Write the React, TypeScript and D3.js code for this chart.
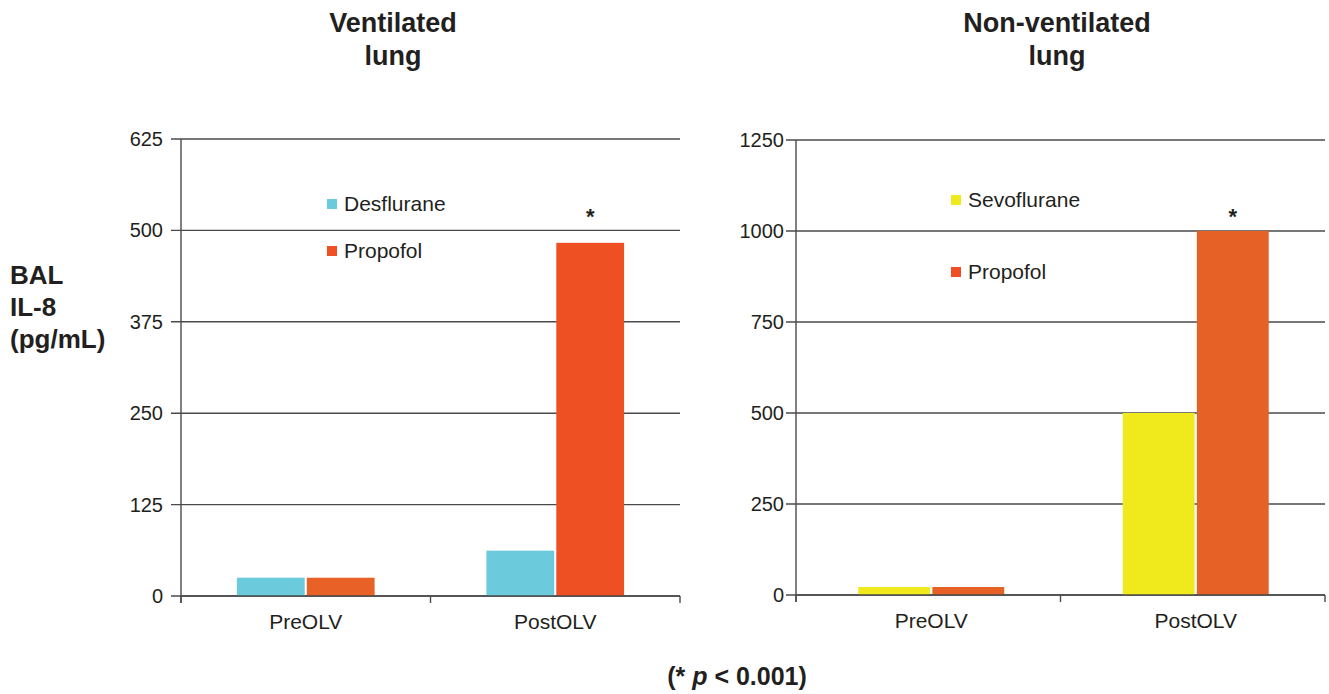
import React from "react";
import * as d3 from "d3";

// categories and series
const categories = ["PreOLV", "PostOLV"];

const ventSeries = ["Desflurane", "Propofol"];
const ventDesflurane = [25, 62];
const ventPropofol = [25, 483];
const ventTicks = [0, 125, 250, 375, 500, 625];

const nonVentSeries = ["Sevoflurane", "Propofol"];
const nonVentSevoflurane = [22, 500];
const nonVentPropofol = [22, 1000];
const nonVentTicks = [0, 250, 500, 750, 1000, 1250];

const FONT = "'Liberation Sans', Arial, Helvetica, sans-serif";
const INK = "#231f20";
const GRID = "#4a4a4a";

type PanelProps = {
  title: string[];
  series: string[];
  values: number[][];
  ticks: number[];
  colors: string[][]; // [series][category]
  legendColors: string[];
  x0: number;
  x1: number;
  yTop: number;
  yBottom: number;
  legendX: number;
  legendY: number[];
  titleX: number;
  groupShift: number;
  labelGap: number;
};

const Panel = (p: PanelProps) => {
  const max = p.ticks[p.ticks.length - 1];
  const y = d3.scaleLinear().domain([0, max]).range([p.yBottom, p.yTop]);
  const x = d3.scaleBand<string>().domain(categories).range([p.x0, p.x1]).padding(0);
  const xs = d3
    .scaleBand<string>()
    .domain(p.series)
    .range([0, x.bandwidth()])
    .paddingInner(0.03)
    .paddingOuter(0.8);

  const lastCat = categories[categories.length - 1];
  const starX = (x(lastCat) || 0) + p.groupShift + (xs(p.series[1]) || 0) + xs.bandwidth() / 2;

  return (
    <g>
      {p.title.map((t, i) => (
        <text
          key={t}
          x={p.titleX}
          y={32 + i * 33}
          textAnchor="middle"
          fontFamily={FONT}
          fontWeight="bold"
          fontSize={27}
          fill={INK}
        >
          {t}
        </text>
      ))}

      {/* gridlines and y ticks */}
      {p.ticks.map((t) => (
        <g key={t}>
          <line x1={p.x0 - 10} x2={p.x1} y1={y(t)} y2={y(t)} stroke={GRID} strokeWidth={1.4} />
          <text
            x={p.x0 - p.labelGap}
            y={y(t)}
            dy="0.35em"
            textAnchor="end"
            fontFamily={FONT}
            fontSize={20}
            fill={INK}
          >
            {t}
          </text>
        </g>
      ))}

      {/* bars */}
      {categories.map((c, ci) =>
        p.series.map((s, si) => (
          <rect
            key={c + s}
            x={(x(c) || 0) + p.groupShift + (xs(s) || 0)}
            width={xs.bandwidth()}
            y={y(p.values[si][ci])}
            height={p.yBottom - y(p.values[si][ci])}
            fill={p.colors[si][ci]}
          />
        ))
      )}

      {/* axes */}
      <line x1={p.x0} x2={p.x0} y1={p.yTop} y2={p.yBottom + 7} stroke={GRID} strokeWidth={1.4} />
      <line x1={p.x0} x2={p.x1} y1={p.yBottom} y2={p.yBottom} stroke={GRID} strokeWidth={1.4} />
      {[...categories.map((c) => x(c) || 0), p.x1].map((tx, i) => (
        <line key={i} x1={tx} x2={tx} y1={p.yBottom} y2={p.yBottom + 7} stroke={GRID} strokeWidth={1.4} />
      ))}
      {categories.map((c) => (
        <text
          key={c}
          x={(x(c) || 0) + x.bandwidth() / 2 + p.groupShift}
          y={p.yBottom + 33}
          textAnchor="middle"
          fontFamily={FONT}
          fontSize={21}
          fill={INK}
        >
          {c}
        </text>
      ))}

      {/* legend */}
      {p.series.map((s, i) => (
        <g key={s}>
          <rect x={p.legendX} y={p.legendY[i] - 5} width={10} height={10} fill={p.legendColors[i]} />
          <text
            x={p.legendX + 17}
            y={p.legendY[i]}
            dy="0.35em"
            fontFamily={FONT}
            fontSize={21}
            fill={INK}
          >
            {s}
          </text>
        </g>
      ))}

      <text x={starX} y={224} textAnchor="middle" fontFamily={FONT} fontWeight="bold" fontSize={22} fill={INK}>
        *
      </text>
    </g>
  );
};

const App = () => {
  return (
    <svg
      width={1329}
      height={694}
      style={{ position: "absolute", left: 0, top: 0, background: "#fff" }}
    >
      <Panel
        title={["Ventilated", "lung"]}
        series={ventSeries}
        values={[ventDesflurane, ventPropofol]}
        ticks={ventTicks}
        colors={[
          ["#6bcbdc", "#6bcbdc"],
          ["#e86126", "#ee5024"],
        ]}
        legendColors={["#6bcbdc", "#f05024"]}
        x0={181}
        x1={680}
        yTop={139}
        yBottom={596}
        legendX={327}
        legendY={[204, 251]}
        titleX={393}
        groupShift={0}
        labelGap={18}
      />
      <Panel
        title={["Non-ventilated", "lung"]}
        series={nonVentSeries}
        values={[nonVentSevoflurane, nonVentPropofol]}
        ticks={nonVentTicks}
        colors={[
          ["#f0e91c", "#f0e91c"],
          ["#e66126", "#e66126"],
        ]}
        legendColors={["#f0e91c", "#f04e24"]}
        x0={796}
        x1={1325}
        yTop={140}
        yBottom={595}
        legendX={951}
        legendY={[200, 272]}
        titleX={1057}
        groupShift={3}
        labelGap={12}
      />

      {/* y axis label */}
      {["BAL", "IL-8", "(pg/mL)"].map((t, i) => (
        <text key={t} x={10} y={284 + i * 32} fontFamily={FONT} fontWeight="bold" fontSize={26} fill={INK}>
          {t}
        </text>
      ))}

      <text x={737} y={685} textAnchor="middle" fontFamily={FONT} fontWeight="bold" fontSize={25} fill={INK}>
        (* <tspan fontStyle="italic">p</tspan> &lt; 0.001)
      </text>
    </svg>
  );
};

export default App;
